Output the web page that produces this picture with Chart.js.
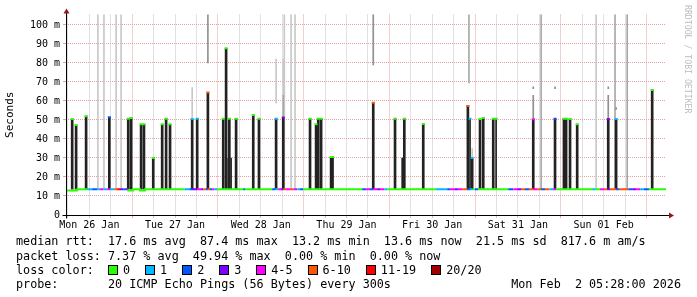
<!DOCTYPE html>
<html>
<head>
<meta charset="utf-8">
<script src="https://cdn.jsdelivr.net/npm/chart.js@4.4.1/dist/chart.umd.min.js"></script>
<style>
html, body { margin: 0; padding: 0; background: #fff; }
#wrap { position: relative; width: 697px; height: 297px; overflow: hidden; font-family: 'DejaVu Sans Mono', monospace; color: #000; }
#wrap canvas { position: absolute; left: 0; top: 0; }
.lg { position: absolute; left: 16px; white-space: pre; font-size: 11.75px; line-height: 14px; }
#stamp { left: auto; right: 16px; }
#losses { display: flex; align-items: center; }
.box { display: inline-block; width: 8px; height: 8px; border: 1px solid #000; margin-right: 5px; }
.item { display: inline-flex; align-items: center; margin-right: 15px; }
#mark { position: absolute; left: 683px; top: 5px; writing-mode: vertical-rl; font-size: 8.2px; color: #bdbdbd; white-space: pre; }
</style>
</head>
<body>
<div id="wrap">
  <canvas id="chart" width="697" height="297"></canvas>
  <div class="lg" style="top:234px">median rtt:  17.6 ms avg  87.4 ms max  13.2 ms min  13.6 ms now  21.5 ms sd  817.6 m am/s</div>
  <div class="lg" style="top:249px">packet loss: 7.37 % avg  49.94 % max  0.00 % min  0.00 % now</div>
  <div class="lg" style="top:263px" id="losses">loss color:  </div>
  <div class="lg" style="top:277px">probe:       20 ICMP Echo Pings (56 Bytes) every 300s</div>
  <div class="lg" style="top:277px" id="stamp">Mon Feb  2 05:28:00 2026</div>
  <div id="mark">RRDTOOL / TOBI OETIKER</div>
</div>
<script>
// hours counted from Mon 26 Jan 00:00
const startHour = 5.47;
const endHour = 173.47;

const dayLabels = ['Mon 26 Jan', 'Tue 27 Jan', 'Wed 28 Jan', 'Thu 29 Jan', 'Fri 30 Jan', 'Sat 31 Jan', 'Sun 01 Feb'];
const dayNoon = [12, 36, 60, 84, 108, 132, 156];

const lossLabels = ['0', '1', '2', '3', '4-5', '6-10', '11-19', '20/20'];
const lossColors = ['#26ff00', '#00b8ff', '#0059ff', '#7e00ff', '#ff00ff', '#ff5500', '#ff0000', '#a10000'];

// median rtt, one entry per run: start hour, ms, loss class
const medStart = [
  5.47, 8.6, 10.8, 11.4, 12.8, 14.2, 15.0, 15.9, 17.0, 17.8,
  19.0, 19.8, 20.6, 21.5, 22.3, 22.9, 24.3, 26.2, 27.6, 29.6,
  38.6, 40.0, 40.8, 42.2, 43.3, 43.9, 44.7, 45.2, 45.8, 46.4,
  47.0, 47.8, 55.1, 55.6, 63.2, 64.0, 64.9, 65.7, 66.3, 67.1,
  68.2, 69.1, 70.2, 71.0, 71.9, 88.4, 89.5, 90.6, 91.5, 92.6,
  93.4, 94.6, 95.4, 109.1, 112.2, 113.0, 114.4, 115.2, 116.4, 117.8,
  118.6, 119.4, 120.0, 120.9, 129.3, 130.7, 131.8, 132.9, 134.0, 135.1,
  136.3, 137.4, 138.5, 139.6, 140.8, 141.9, 142.7, 152.8, 153.6, 155.0,
  156.1, 157.0, 157.8, 159.5, 160.3, 162.9, 164.0, 165.1, 166.2, 167.3,
  168.7
];
const medMs = [
  13.5, 12.9, 13.5, 13.5, 13.5, 13.5, 13.5, 13.5, 13.5, 13.5,
  13.5, 13.5, 13.5, 13.5, 13.5, 13.5, 12.9, 13.5, 12.9, 13.5,
  13.5, 13.5, 13.5, 13.5, 13.5, 13.5, 13.5, 13.5, 13.5, 13.5,
  13.5, 13.5, 13.5, 13.5, 13.5, 13.5, 13.5, 13.5, 13.5, 13.5,
  13.5, 13.5, 13.5, 13.5, 13.5, 13.5, 13.5, 13.5, 13.5, 13.5,
  13.5, 13.5, 13.5, 13.5, 13.5, 13.5, 13.5, 13.5, 13.5, 13.5,
  13.5, 13.5, 13.5, 13.5, 13.5, 13.5, 13.5, 13.5, 13.5, 13.5,
  13.5, 13.5, 13.5, 13.5, 13.5, 13.5, 13.5, 13.5, 13.5, 13.5,
  13.5, 13.5, 13.5, 13.5, 13.5, 13.5, 13.5, 13.5, 13.5, 13.5,
  13.5
];
const medLoss = [
  0, 0, 0, 1, 2, 1, 4, 1, 4, 1,
  5, 6, 3, 2, 3, 0, 0, 0, 0, 0,
  1, 2, 3, 4, 3, 5, 2, 5, 2, 4,
  1, 0, 2, 0, 2, 1, 4, 3, 5, 4,
  5, 4, 1, 2, 0, 2, 4, 2, 4, 3,
  4, 1, 0, 1, 2, 4, 3, 4, 5, 2,
  1, 0, 2, 0, 2, 4, 3, 5, 2, 5,
  4, 5, 2, 5, 1, 4, 0, 1, 0, 4,
  5, 3, 5, 2, 5, 2, 3, 4, 1, 2,
  0
];

// median during the latency spikes
const topTime = [7.2, 8.3, 11.1, 17.6, 22.9, 23.7, 26.5, 27.3, 29.9, 32.4,
  33.5, 34.6, 40.8, 42.2, 45.2, 49.5, 50.3, 51.2, 53.1, 57.9,
  59.5, 64.3, 66.3, 73.8, 75.5, 76.1, 76.9, 79.7, 80.1, 91.5,
  97.6, 100.2, 105.5, 118.0, 118.6, 119.2, 121.4, 122.3, 125.1, 125.9,
  136.3, 142.4, 144.9, 145.5, 146.6, 148.6, 157.3, 159.5, 169.6];
const topMs = [50.5, 47.4, 52, 51.4, 50.7, 51, 47.7, 47.7, 30, 47.7,
  50.7, 47.7, 50.5, 50.7, 64.4, 50.7, 87.7, 50.7, 50.7, 52.6,
  50.7, 50.7, 51.3, 50.7, 47.7, 50.7, 50.7, 30.5, 30.5, 59,
  50.7, 50.7, 47.9, 57.4, 50.7, 30, 50.5, 51, 50.7, 50.7,
  50.4, 50.6, 50.7, 50.7, 50.5, 47.7, 50.5, 50.5, 65.8];
const topLoss = [0, 0, 0, 2, 0, 0, 0, 0, 0, 0,
  0, 0, 1, 1, 5, 0, 0, 0, 0, 0,
  0, 1, 3, 0, 0, 0, 0, 0, 0, 5,
  0, 0, 0, 5, 1, 1, 0, 0, 0, 0,
  4, 2, 0, 0, 0, 0, 3, 1, 0];

// dense smoke (most pings in the spike)
const smokeFloor = 13.6;
const barTime = [7.2, 8.3, 11.1, 17.6, 22.9, 23.7, 26.5, 27.3, 29.9, 32.4,
  33.5, 34.6, 40.8, 42.2, 45.2, 49.5, 50.3, 51.2, 53.1, 57.9,
  59.5, 64.3, 66.3, 73.8, 75.5, 76.1, 76.9, 79.7, 80.1, 91.5,
  97.6, 100.2, 105.5, 118.0, 119.2, 121.4, 122.3, 125.1,
  136.3, 142.4, 144.9, 145.5, 146.6, 148.6, 157.3, 159.5, 169.6];
const barHigh = [50.5, 47.4, 52, 51.4, 50.7, 51, 47.7, 47.7, 30, 47.7,
  50.7, 47.7, 50.5, 50.7, 64.4, 50.7, 87.7, 50.7, 50.7, 52.6,
  50.7, 50.7, 51.3, 50.7, 47.7, 50.7, 50.7, 30.5, 30.5, 59,
  50.7, 50.7, 47.9, 57.4, 30, 50.5, 51, 50.7,
  50.4, 50.6, 50.7, 50.7, 50.5, 47.7, 50.5, 50.5, 65.8];
const thinTime = [50.9, 51.7, 99.6, 118.6, 125.9];
const thinHigh = [30, 30, 30, 50.7, 50.7];

// sparse smoke (single outlying pings)
const lightTime = [14.4, 16.1, 19.5, 20.9, 66.6, 68.5, 69.6, 153.9, 40.8, 64.3, 66.3, 119.2];
const lightLow  = [13.6, 13.6, 13.6, 13.6, 13.6, 13.6, 13.6, 13.6, 50.7, 59, 63, 30];
const lightHigh = [120, 120, 120, 120, 120, 120, 120, 120, 67, 82, 82, 35];
const midTime = [138.5, 159.2, 162.6, 118.3, 66.3];
const midLow  = [13.6, 13.6, 13.6, 69.5, 51];
const midHigh = [120, 120, 120, 120, 63];
const darkTime = [45.2, 91.5, 136.3, 157.3, 136.3, 142.4, 157.3, 159.5];
const darkLow  = [80, 79, 50.4, 50.5, 66.5, 66.5, 66.5, 55.5];
const darkHigh = [120, 120, 63, 63, 67.5, 67.5, 67.5, 56.5];

const majorGrid = '#e6a2a2';
const minorGrid = '#c4c4c4';
const mono = 'DejaVu Sans Mono';

function floating(times, lows, highs) {
  return times.map((t, i) => ({ x: t, y: [lows[i], highs[i]] }));
}

const medPoints = medStart.map((t, i) => ({ x: t, y: medMs[i] }));
medPoints.push({ x: endHour, y: medMs[medMs.length - 1] });

const axesPlugin = {
  id: 'axes',
  afterDatasetsDraw(chart) {
    const { ctx, chartArea: a } = chart;
    const x0 = Math.round(a.left) + 0.5;
    const y0 = Math.round(a.bottom) + 0.5;
    ctx.save();
    ctx.strokeStyle = '#000';
    ctx.lineWidth = 1;
    ctx.beginPath();
    ctx.moveTo(x0 - 4, y0);
    ctx.lineTo(a.right + 3, y0);
    ctx.moveTo(x0, y0 + 3);
    ctx.lineTo(x0, a.top - 2);
    ctx.stroke();
    ctx.fillStyle = '#8e1b1b';
    ctx.beginPath();
    ctx.moveTo(x0, a.top - 6);
    ctx.lineTo(x0 - 3, a.top - 1);
    ctx.lineTo(x0 + 3, a.top - 1);
    ctx.closePath();
    ctx.fill();
    ctx.beginPath();
    ctx.moveTo(a.right + 8, y0);
    ctx.lineTo(a.right + 3, y0 - 3);
    ctx.lineTo(a.right + 3, y0 + 3);
    ctx.closePath();
    ctx.fill();
    ctx.restore();
  }
};

new Chart(document.getElementById('chart'), {
  type: 'bar',
  data: {
    datasets: [
      {
        type: 'line',
        data: topTime.map((t, i) => ({ x: t, y: topMs[i] })),
        showLine: false,
        pointStyle: 'line',
        pointRadius: 1.5,
        pointBorderWidth: 2,
        pointBorderColor: topLoss.map(l => lossColors[l]),
        order: 0
      },
      {
        type: 'line',
        data: medPoints,
        stepped: 'after',
        borderWidth: 2,
        borderColor: lossColors[0],
        pointRadius: 0,
        segment: { borderColor: c => lossColors[medLoss[c.p0DataIndex]] },
        order: 1
      },
      { data: floating(barTime, barTime.map(() => smokeFloor), barHigh), backgroundColor: '#222', barThickness: 2, grouped: false, order: 2 },
      { data: floating(thinTime, thinTime.map(() => smokeFloor), thinHigh), backgroundColor: '#222', barThickness: 1, grouped: false, order: 3 },
      { data: floating(darkTime, darkLow, darkHigh), backgroundColor: '#909090', barThickness: 1, grouped: false, order: 4 },
      { data: floating(midTime, midLow, midHigh), backgroundColor: '#a8a8a8', barThickness: 1, grouped: false, order: 5 },
      { data: floating(lightTime, lightLow, lightHigh), backgroundColor: '#c8c8c8', barThickness: 1, grouped: false, order: 6 }
    ]
  },
  options: {
    responsive: false,
    animation: false,
    devicePixelRatio: 1,
    events: [],
    layout: { padding: { left: 0, right: 31, top: 14.5, bottom: 62 } },
    plugins: { legend: { display: false }, tooltip: { enabled: false } },
    scales: {
      x: {
        type: 'linear',
        min: startHour,
        max: endHour,
        offset: false,
        afterBuildTicks: s => {
          const ticks = [];
          for (let h = 6; h < endHour; h += 6) ticks.push({ value: h });
          s.ticks = ticks;
        },
        afterFit: s => { s.height = 20; },
        grid: {
          offset: false,
          color: c => (c.tick && c.tick.value % 24 === 0 ? majorGrid : minorGrid),
          tickLength: 3
        },
        border: { display: false, dash: [1, 1] },
        ticks: {
          autoSkip: false,
          maxRotation: 0,
          minRotation: 0,
          padding: 1,
          color: '#000',
          font: { family: mono, size: 10 },
          callback: v => {
            const i = dayNoon.indexOf(v);
            return i >= 0 ? dayLabels[i] : '';
          }
        }
      },
      y: {
        type: 'linear',
        min: 0,
        max: 105.5,
        afterBuildTicks: s => {
          const ticks = [];
          for (let v = 0; v <= 105; v += 5) ticks.push({ value: v });
          s.ticks = ticks;
        },
        afterFit: s => { s.width = 66; },
        grid: {
          color: c => (c.tick && c.tick.value % 10 === 0 ? majorGrid : minorGrid),
          tickLength: 3
        },
        border: { display: false, dash: [1, 1] },
        title: {
          display: true,
          text: 'Seconds',
          color: '#000',
          font: { family: mono, size: 11 },
          padding: { top: 4, bottom: 0 }
        },
        ticks: {
          padding: 3,
          color: '#000',
          font: { family: mono, size: 10 },
          callback: v => (v % 10 !== 0 ? '' : v === 0 ? '0' : v + ' m')
        }
      }
    }
  },
  plugins: [axesPlugin]
});

// loss colour legend
const losses = document.getElementById('losses');
lossLabels.forEach((label, i) => {
  const item = document.createElement('span');
  item.className = 'item';
  const box = document.createElement('span');
  box.className = 'box';
  box.style.background = lossColors[i];
  item.appendChild(box);
  item.appendChild(document.createTextNode(label));
  losses.appendChild(item);
});
</script>
</body>
</html>
